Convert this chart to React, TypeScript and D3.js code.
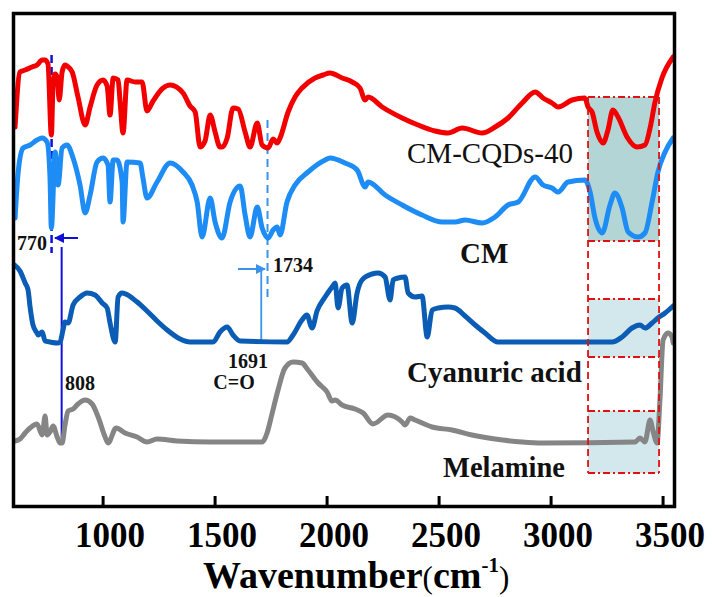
import React from 'react';
import * as d3 from 'd3';

// FTIR spectra, x = wavenumber (cm-1), y = transmittance (a.u., stacked offsets)
const xTicks = [1000, 1500, 2000, 2500, 3000, 3500];

const cmCqds40: [number, number][] = [
  [607, 190], [629, 217.5], [652, 218.5], [683, 220], [705, 221], [728, 223.5], [741, 223.5], [754, 221.5],
  [769, 186], [777, 212], [786, 216.5], [795, 215], [804, 203.5], [817, 217.5], [830, 221], [839, 220.5],
  [862, 217.5], [888, 205], [920, 191], [942, 200], [973, 211], [1000, 213.5], [1018, 210.5], [1031, 196],
  [1045, 214.5], [1067, 213.5], [1076, 202.5], [1089, 187], [1107, 213.5], [1143, 212.5], [1174, 212.5],
  [1196, 198], [1223, 203], [1268, 209.5], [1299, 211], [1357, 207], [1388, 200.5], [1411, 197.5], [1433, 180],
  [1455, 183], [1478, 196], [1500, 187.5], [1522, 180], [1531, 180], [1554, 184.5], [1580, 199.5], [1603, 199],
  [1634, 187.5], [1656, 180], [1688, 192], [1710, 181], [1737, 179.5], [1759, 184], [1777, 182], [1790, 184.5],
  [1826, 197.5], [1857, 205], [1888, 209.5], [1946, 214.5], [1982, 216], [2013, 217], [2067, 214.5],
  [2112, 212.5], [2147, 209.5], [2170, 203.5], [2183, 205], [2246, 200], [2335, 194.5], [2406, 191],
  [2482, 188], [2540, 187], [2603, 189.5], [2692, 187], [2750, 190], [2808, 194.5], [2871, 202], [2929, 207.5],
  [2964, 204.5], [3004, 202], [3031, 200], [3094, 203.5], [3151, 204.5], [3165, 200], [3183, 197.5],
  [3205, 187.5], [3232, 182], [3254, 188.5], [3276, 198.5], [3299, 195], [3339, 185], [3384, 180], [3419, 181],
  [3442, 189.5], [3464, 202.5], [3495, 214.5], [3545, 225],
];

const cm: [number, number][] = [
  [607, 144.5], [621, 167.5], [643, 179.5], [674, 181], [705, 183.5], [728, 184.5], [750, 182.5], [763, 164.5],
  [769, 139.5], [786, 177.5], [799, 161], [817, 179.5], [839, 181], [866, 174.5], [897, 161], [920, 147],
  [942, 156], [973, 172.5], [1000, 174.5], [1022, 171], [1031, 152.5], [1045, 173.5], [1062, 173.5],
  [1085, 162.5], [1089, 142.5], [1107, 172.5], [1165, 172], [1178, 164.5], [1196, 154.5], [1241, 162.5],
  [1299, 172], [1357, 167.5], [1397, 161], [1420, 152.5], [1442, 135], [1478, 154.5], [1500, 142.5],
  [1531, 134.5], [1567, 152.5], [1612, 160.5], [1634, 146], [1656, 135], [1688, 150], [1710, 139.5],
  [1737, 134.5], [1759, 138.5], [1777, 140], [1790, 136], [1821, 152.5], [1857, 161], [1915, 167.5],
  [1991, 173.5], [2013, 174.5], [2080, 172], [2134, 168.5], [2170, 160], [2183, 162.5], [2259, 156],
  [2335, 151], [2424, 146], [2514, 142.5], [2571, 142.5], [2616, 143.5], [2692, 142], [2750, 145],
  [2808, 151], [2853, 152.5], [2929, 165], [2964, 161], [3004, 159.5], [3031, 157.5], [3076, 162.5],
  [3151, 163.5], [3174, 157.5], [3196, 144.5], [3228, 137], [3263, 151], [3285, 157], [3317, 149.5],
  [3344, 137.5], [3388, 135], [3419, 137], [3451, 152.5], [3477, 167.5], [3509, 177.5], [3545, 184.5],
];

const cyanuricAcid: [number, number][] = [
  [604, 121], [629, 118], [652, 112], [665, 108.5], [674, 100], [687, 91], [705, 87], [710, 86], [728, 87.5],
  [741, 83], [763, 82.5], [799, 82], [808, 82.5], [821, 88.5], [830, 92.5], [844, 92], [866, 101], [897, 105],
  [929, 107], [964, 106], [996, 102], [1018, 99.5], [1031, 92], [1054, 82.5], [1067, 105], [1085, 107],
  [1152, 102.5], [1196, 98], [1241, 93], [1286, 88.5], [1344, 84], [1388, 82.5], [1491, 82.5], [1522, 87.5],
  [1554, 90], [1580, 86], [1612, 83], [1821, 82.5], [1848, 86], [1888, 93.5], [1910, 96], [1933, 89.5],
  [1955, 98], [1991, 105], [2022, 110], [2036, 112], [2049, 99.5], [2067, 109.5], [2089, 111], [2112, 92],
  [2134, 107], [2156, 113.5], [2201, 116.5], [2228, 117], [2259, 115], [2281, 103.5], [2295, 113.5],
  [2317, 114.5], [2348, 115], [2362, 107], [2393, 105], [2424, 105.5], [2447, 85], [2469, 98.5], [2496, 99.5],
  [2540, 100], [2571, 99.5], [2616, 95.5], [2661, 91], [2705, 87], [2763, 82.5], [3272, 82.5], [3317, 85],
  [3361, 89.5], [3397, 91], [3419, 89.5], [3451, 92], [3477, 94.5], [3509, 97], [3545, 100.5],
];

const melamine: [number, number][] = [
  [607, 33], [629, 34], [652, 37], [674, 39.5], [705, 41.5], [728, 36], [741, 45.5], [750, 36], [763, 37.5],
  [777, 40.5], [795, 35], [808, 32], [817, 32], [830, 41], [844, 48], [866, 49], [888, 51.5], [920, 53.5],
  [951, 51.5], [978, 45], [1009, 35], [1022, 32], [1058, 39.5], [1098, 37], [1152, 35], [1196, 32.5],
  [1241, 34], [1330, 33], [1478, 32.5], [1710, 32.5], [1732, 37], [1754, 46.5], [1781, 58.5], [1812, 69.5],
  [1848, 72.5], [1888, 72], [1915, 68.5], [1960, 62], [2000, 57.5], [2022, 53], [2036, 53.5], [2067, 51],
  [2125, 49], [2161, 47], [2205, 41.5], [2272, 46], [2335, 42.5], [2348, 41], [2371, 44.5], [2393, 43.5],
  [2469, 40], [2558, 38.5], [2647, 36], [2750, 34], [2871, 32.5], [2960, 32], [3375, 32.5], [3397, 34.5],
  [3419, 32.5], [3442, 43.5], [3455, 38], [3473, 32], [3486, 53.5], [3500, 83.5], [3522, 87], [3540, 85],
  [3545, 82],
];

const seriesNames = ['CM-CQDs-40', 'CM', 'Cyanuric acid', 'Melamine'];
const seriesColors = ['#f20000', '#1e8cf5', '#0b5cb4', '#858585'];

// N-H / O-H region highlighted on the right
const highlightRange = [3165, 3482];
const highlightBands: [number, number][] = [[133, 205], [75, 104], [17, 48]];

const peak770 = 770;
const peak808 = 815;
const peak1734 = 1734;
const peak1691 = 1706;

const serif = "'Liberation Serif', 'Times New Roman', serif";

export default function App() {
  const x = d3.scaleLinear().domain([600, 3551]).range([13.5, 674.5]);
  const y = d3.scaleLinear().domain([0, 247]).range([507, 13]);
  const line = d3
    .line<[number, number]>()
    .x((d) => x(d[0]))
    .y((d) => y(d[1]))
    .curve(d3.curveMonotoneX);

  const allSeries = [cmCqds40, cm, cyanuricAcid, melamine];
  const hx0 = x(highlightRange[0]);
  const hx1 = x(highlightRange[1]);

  return (
    <svg width={715} height={597} style={{ position: 'absolute', left: 0, top: 0, background: '#fff' }}>
      <defs>
        <marker id="ahBlue" viewBox="0 0 10 10" refX="9" refY="5" markerWidth="5" markerHeight="5" orient="auto">
          <path d="M0,0 L10,5 L0,10 z" fill="#1010d8" />
        </marker>
        <marker id="ahLight" viewBox="0 0 10 10" refX="9" refY="5" markerWidth="5" markerHeight="5" orient="auto">
          <path d="M0,0 L10,5 L0,10 z" fill="#3a93e8" />
        </marker>
      </defs>

      {/* highlight boxes */}
      {highlightBands.map((b, i) => (
        <rect
          key={'band' + i}
          x={hx0}
          y={y(b[1])}
          width={hx1 - hx0}
          height={y(b[0]) - y(b[1])}
          fill={i === 0 ? '#b3d5d6' : '#d3e8ec'}
        />
      ))}

      {/* peak markers */}
      <line x1={x(peak770)} x2={x(peak770)} y1={y(226)} y2={y(127)} stroke="#1010d8" strokeWidth={2.5} strokeDasharray="8,4" />
      <line x1={x(peak808)} x2={x(peak808)} y1={y(130)} y2={y(34.5)} stroke="#1010e0" strokeWidth={2} />
      <line x1={x(peak1734)} x2={x(peak1734)} y1={y(193.5)} y2={y(105)} stroke="#3a93e8" strokeWidth={2} strokeDasharray="8,5" />
      <line x1={x(peak1691)} x2={x(peak1691)} y1={y(118.5)} y2={y(83.5)} stroke="#3a93e8" strokeWidth={1.8} />

      {/* spectra */}
      {allSeries.map((d, i) => (
        <path
          key={seriesNames[i]}
          d={line(d) || ''}
          fill="none"
          stroke={seriesColors[i]}
          strokeWidth={5}
          strokeLinejoin="round"
          strokeLinecap="round"
        />
      ))}

      {/* highlight outlines */}
      <line x1={hx0} x2={hx0} y1={y(205)} y2={y(17)} stroke="#e01010" strokeWidth={1.8} strokeDasharray="7,4" />
      <line x1={hx1} x2={hx1} y1={y(205)} y2={y(17)} stroke="#e01010" strokeWidth={1.8} strokeDasharray="7,4" />
      {highlightBands.flat().map((v, i) => (
        <line key={'hl' + i} x1={hx0} x2={hx1} y1={y(v)} y2={y(v)} stroke="#e01010" strokeWidth={1.8} strokeDasharray="7,3,2,3" />
      ))}

      {/* arrows */}
      <line x1={78} x2={55} y1={238} y2={238} stroke="#1010d8" strokeWidth={2} markerEnd="url(#ahBlue)" />
      <line x1={238} x2={265} y1={269} y2={269} stroke="#3a93e8" strokeWidth={2} markerEnd="url(#ahLight)" />

      <g fontFamily={serif} fontWeight="bold" fontSize={20} fill="#111">
        <text x={47} y={250} textAnchor="end">770</text>
        <text x={65} y={390}>808</text>
        <text x={273} y={272}>1734</text>
        <text x={248} y={368} textAnchor="middle">1691</text>
        <text x={234} y={389} textAnchor="middle">C=O</text>
      </g>

      {/* series labels */}
      <g fontFamily={serif} fontSize={29} fill="#111">
        <text x={407} y={163}>{seriesNames[0]}</text>
        <text x={460} y={263} fontWeight="bold">{seriesNames[1]}</text>
        <text x={407} y={382} fontWeight="bold">{seriesNames[2]}</text>
        <text x={443} y={477} fontWeight="bold" fontSize={28.5}>{seriesNames[3]}</text>
      </g>

      {/* frame */}
      <rect x={13.5} y={13.5} width={661} height={493} fill="none" stroke="#000" strokeWidth={3.5} />

      {/* x axis ticks & labels */}
      {xTicks.map((t) => (
        <g key={t}>
          <line x1={x(t)} x2={x(t)} y1={506} y2={496} stroke="#000" strokeWidth={3} />
          <text x={x(t) + 7} y={547} textAnchor="middle" fontFamily={serif} fontWeight="bold" fontSize={35} fill="#000">
            {t}
          </text>
        </g>
      ))}

      <text x={203} y={588} fontFamily={serif} fill="#000">
        <tspan fontWeight="bold" fontSize={38}>Wavenumber</tspan>
        <tspan fontSize={31}>(</tspan>
        <tspan fontWeight="bold" fontSize={38}>cm</tspan>
        <tspan fontWeight="bold" fontSize={21} dy={-16}>-1</tspan>
        <tspan fontSize={31} dy={16}>)</tspan>
      </text>
    </svg>
  );
}
